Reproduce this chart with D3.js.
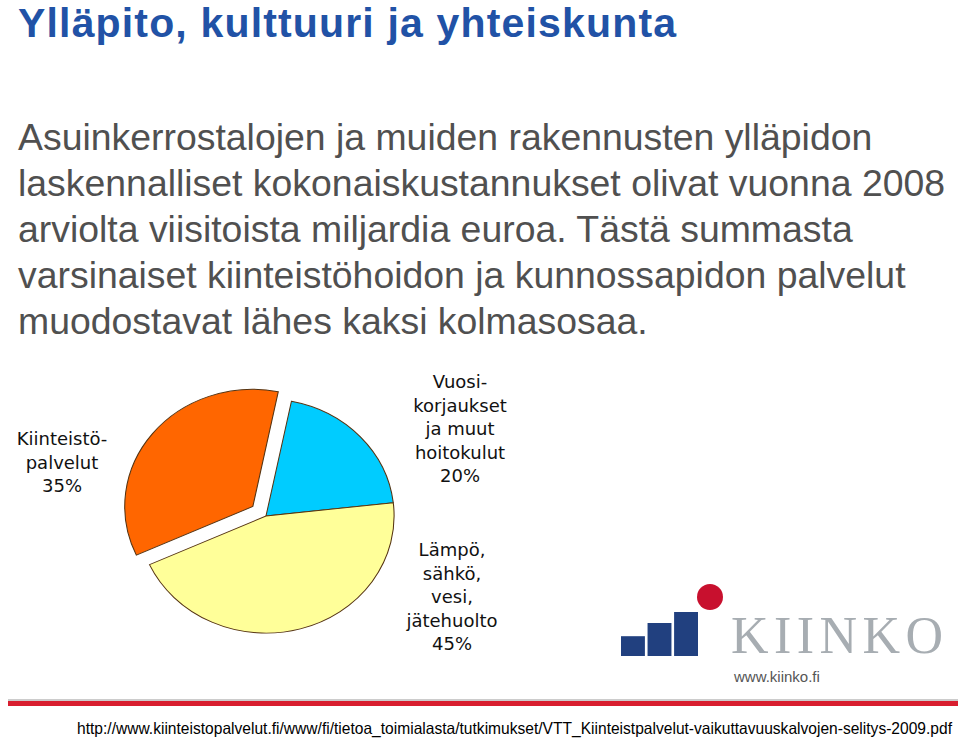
<!DOCTYPE html>
<html><head><meta charset="utf-8">
<script src="https://cdn.jsdelivr.net/npm/d3@7"></script>
<style>body{margin:0;background:#fff}svg{display:block}</style>
</head><body>
<script>
// Pie data
const categories = ['Vuosikorjaukset ja muut hoitokulut', 'Lämpö, sähkö, vesi, jätehuolto', 'Kiinteistöpalvelut'];
const shares = [20, 45, 35];
const colors = ['#00ccff', '#ffff99', '#ff6600'];
const labelLines = [
  ['Vuosi-', 'korjaukset', 'ja muut', 'hoitokulut', '20%'],
  ['Lämpö,', 'sähkö,', 'vesi,', 'jätehuolto', '45%'],
  ['Kiinteistö-', 'palvelut', '35%']
];
const bodyLines = [
  'Asuinkerrostalojen ja muiden rakennusten ylläpidon',
  'laskennalliset kokonaiskustannukset olivat vuonna 2008',
  'arviolta viisitoista miljardia euroa. Tästä summasta',
  'varsinaiset kiinteistöhoidon ja kunnossapidon palvelut',
  'muodostavat lähes kaksi kolmasosaa.'
];
const logoBars = [0.45, 0.75, 1];

const svg = d3.select('body').append('svg').attr('width', 960).attr('height', 739);

svg.append('text').attr('x', 18).attr('y', 37)
  .attr('font-family', 'Liberation Sans, Arial').attr('font-weight', 'bold')
  .attr('font-size', 41).attr('textLength', 658).attr('fill', '#2152a6').text('Ylläpito, kulttuuri ja yhteiskunta');

svg.append('g').selectAll('text').data(bodyLines).join('text')
  .attr('x', 18).attr('y', (d, i) => 150 + i * 46)
  .attr('font-family', 'Liberation Sans, Arial').attr('font-size', 37.4)
  .attr('fill', '#505050').text(d => d);

// Pie
const pie = d3.pie().sort(null).startAngle(0.2).endAngle(0.2 + 2 * Math.PI)(shares);
const arc = d3.arc().innerRadius(0).outerRadius(122);
const g = svg.append('g').attr('transform', 'translate(266,516) scale(1.05,0.96)');
g.selectAll('path').data(pie).join('path')
  .attr('transform', (d, i) => {
    if (i !== 2) return null;
    const [x, y] = arc.centroid(d);
    const k = 16 / Math.hypot(x, y);
    return `translate(${x * k},${y * k})`;
  })
  .attr('d', arc).attr('fill', (d, i) => colors[i])
  .attr('stroke', '#553311').attr('stroke-width', 1);

const labelPos = [[460, 388], [452, 556], [62, 445]];
labelLines.forEach((lines, i) => {
  svg.append('text').attr('text-anchor', 'middle')
    .attr('font-family', 'DejaVu Sans, Verdana').attr('font-size', 18).attr('fill', '#111')
    .selectAll('tspan').data(lines).join('tspan')
    .attr('x', labelPos[i][0]).attr('y', (d, j) => labelPos[i][1] + j * 23.5).text(d => d);
});

// Logo
const bx = d3.scaleBand().domain(d3.range(logoBars.length)).range([621, 698]).paddingInner(0.1);
const by = d3.scaleLinear().domain([0, 1]).range([656, 612]);
svg.append('g').selectAll('rect').data(logoBars).join('rect')
  .attr('x', (d, i) => bx(i)).attr('width', bx.bandwidth())
  .attr('y', d => by(d)).attr('height', d => 656 - by(d)).attr('fill', '#21407f');
svg.append('circle').attr('cx', 710).attr('cy', 597).attr('r', 13).attr('fill', '#c8102e');
svg.append('text').attr('x', 731).attr('y', 653)
  .attr('font-family', 'Liberation Serif, Times New Roman').attr('font-size', 52)
  .attr('textLength', 212).attr('fill', '#a7adb2').text('KIINKO');
svg.append('text').attr('x', 734).attr('y', 682)
  .attr('font-family', 'Liberation Sans, Arial').attr('font-size', 15).attr('fill', '#555').text('www.kiinko.fi');

// footer line + url
svg.append('rect').attr('x', 8).attr('y', 699).attr('width', 950).attr('height', 3).attr('fill', '#ccc');
svg.append('rect').attr('x', 8).attr('y', 701).attr('width', 950).attr('height', 5).attr('fill', '#d81e2f');
svg.append('text').attr('x', 77).attr('y', 734)
  .attr('font-family', 'Liberation Sans, Arial').attr('font-size', 16.5).attr('fill', '#000')
  .attr('textLength', 875).attr('lengthAdjust', 'spacingAndGlyphs')
  .text('http://www.kiinteistopalvelut.fi/www/fi/tietoa_toimialasta/tutkimukset/VTT_Kiinteistpalvelut-vaikuttavuuskalvojen-selitys-2009.pdf');
</script>
</body></html>
